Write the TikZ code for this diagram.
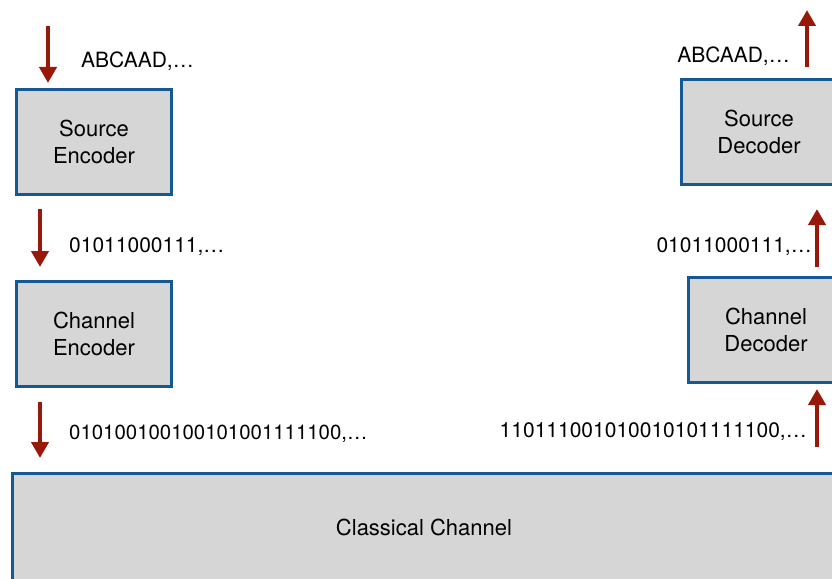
\documentclass[tikz,border=0pt]{standalone}
\usepackage{fontspec}
\setmainfont{TeX Gyre Heros}
\usetikzlibrary{arrows.meta}
\definecolor{boxblue}{RGB}{22,88,150}
\definecolor{boxgray}{RGB}{214,214,214}
\definecolor{arrred}{RGB}{152,24,10}
\tikzset{
  blockbox/.style={draw=boxblue, line width=3pt, fill=boxgray, inner sep=0pt,
    minimum width=155pt, minimum height=105pt, align=center,
    font=\fontsize{22pt}{27pt}\selectfont},
  flowarrow/.style={draw=arrred, line width=4pt,
    -{Triangle[width=17pt,length=16pt]}, shorten >=0pt},
  bitlabel/.style={font=\fontsize{21pt}{25pt}\selectfont, inner sep=0pt}
}
\begin{document}
\begin{tikzpicture}[x=1pt,y=-1pt]
\useasboundingbox (0,0) rectangle (832,578);
\clip (0,0) rectangle (832,578);
% boxes
\node[blockbox] (senc) at (94,142) {Source\\Encoder};
\node[blockbox] (cenc) at (94,334) {Channel\\Encoder};
\node[blockbox] (sdec) at (759,132) {Source\\Decoder};
\node[blockbox] (cdec) at (766,330) {Channel\\Decoder};
\node[blockbox, minimum width=823pt, minimum height=109pt] (chan) at (424,528) {};
\node[font=\fontsize{22pt}{27pt}\selectfont, inner sep=0pt, anchor=base] (chantext) at (424,535) {Classical Channel};
% arrow end points
\coordinate (a1s) at (48,26);  \coordinate (a1e) at (48,83);
\coordinate (a2s) at (40,209); \coordinate (a2e) at (40,267);
\coordinate (a3s) at (40,402); \coordinate (a3e) at (40,458);
\coordinate (b1s) at (817,447); \coordinate (b1e) at (817,389);
\coordinate (b2s) at (817,267); \coordinate (b2e) at (817,209);
\coordinate (b3s) at (807,67);  \coordinate (b3e) at (807,10);
\draw[flowarrow] (a1s) -- (a1e);
\draw[flowarrow] (a2s) -- (a2e);
\draw[flowarrow] (a3s) -- (a3e);
\draw[flowarrow] (b1s) -- (b1e);
\draw[flowarrow] (b2s) -- (b2e);
\draw[flowarrow] (b3s) -- (b3e);
% labels
\node[bitlabel, anchor=base west] (l1) at (81,67) {ABCAAD,…};
\node[bitlabel, anchor=base west] (l2) at (69,252) {01011000111,…};
\node[bitlabel, anchor=base west, font=\fontsize{20.4pt}{25pt}\selectfont] (l3) at (69,439) {010100100100101001111100,…};
\node[bitlabel, anchor=base east] (r1) at (790,63) {ABCAAD,…};
\node[bitlabel, anchor=base east] (r2) at (812,252) {01011000111,…};
\node[bitlabel, anchor=base east] (r3) at (807,437) {110111001010010101111100,…};
\end{tikzpicture}
\end{document}
